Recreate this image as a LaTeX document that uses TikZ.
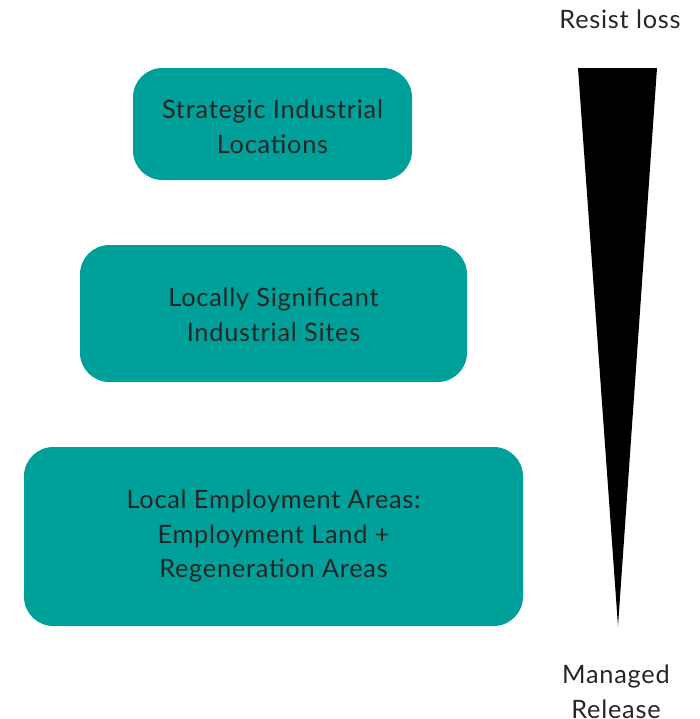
\documentclass[tikz,border=0pt]{standalone}
\usepackage{fontspec}
\setmainfont{Lato}[LetterSpace=3]
\definecolor{teal1}{RGB}{0,160,154}
\begin{document}
\begin{tikzpicture}[x=0.75pt,y=-0.75pt,
  box/.style={fill=teal1,rounded corners=22pt,draw=none},
  txt/.style={align=center,font=\fontsize{19}{26}\selectfont,text=black!85}]
\useasboundingbox (0,0) rectangle (700,719);
\fill[box] (133,68) rectangle (412,180);
\fill[box] (80,245) rectangle (467,382);
\fill[box] (24,447) rectangle (523,626);
\node[txt] (a) at (272.5,127) {Strategic Industrial\\Locations};
\node[txt] (b) at (273.5,315) {Locally Significant\\Industrial Sites};
\node[txt] (c) at (273.5,536) {Local Employment Areas:\\Employment Land +\\Regeneration Areas};
\fill[black] (578,68) -- (657,68) -- (618,626) -- cycle;
\node[txt,anchor=base] (top) at (620,28) {Resist loss};
\node[txt] (bot) at (616,692) {Managed\\Release};
\end{tikzpicture}
\end{document}
